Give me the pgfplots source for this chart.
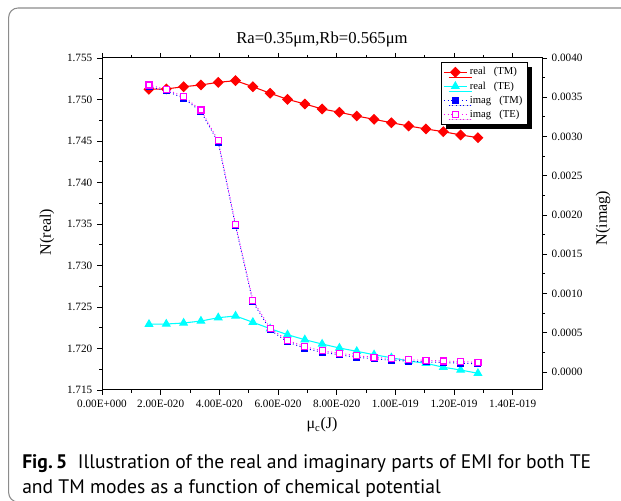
\documentclass[border=0pt]{standalone}
\usepackage{fontspec}
\setmainfont{Liberation Serif}
\newfontfamily\capfont{PT Sans}
\usepackage{pgfplots}
\pgfplotsset{compat=1.18}
\usepackage{pgfplotstable}
\usetikzlibrary{shadows}
\definecolor{framegray}{gray}{0.55}
\definecolor{cy}{RGB}{0,255,255}
\definecolor{mg}{RGB}{255,0,255}
\definecolor{rd}{RGB}{255,0,0}
\definecolor{bl}{RGB}{0,0,255}

\pgfplotstableread{
x tmr ter tmi tei
1.602 1.75123 1.72292 0.003636 0.003656
2.192 1.75127 1.72295 0.003581 0.003601
2.782 1.75154 1.72307 0.003487 0.003507
3.373 1.75175 1.72331 0.003318 0.003338
3.963 1.75207 1.72371 0.002926 0.002946
4.553 1.75227 1.72392 0.001861 0.001881
5.143 1.75154 1.72316 0.000893 0.000913
5.733 1.75075 1.72239 0.000536 0.000556
6.324 1.75002 1.72166 0.000383 0.000403
6.914 1.74946 1.72106 0.000302 0.000322
7.504 1.74886 1.72054 0.000251 0.000271
8.094 1.74846 1.72006 0.000218 0.000238
8.685 1.74801 1.71966 0.000187 0.000207
9.275 1.74761 1.71925 0.000167 0.000187
9.865 1.74720 1.71889 0.000149 0.000169
10.455 1.74681 1.71849 0.000136 0.000156
11.045 1.74645 1.71822 0.000129 0.000149
11.636 1.74612 1.71774 0.000120 0.000140
12.226 1.74573 1.71741 0.000111 0.000131
12.816 1.74540 1.71701 0.000103 0.000123
}\data

\pgfplotsset{
  common/.style={
    at={(76.5pt,82.5pt)}, anchor=south west, scale only axis,
    width=330pt, height=249pt, xmin=0, xmax=15,
    tick align=outside, major tick length=3.75pt, minor tick length=2.25pt,
    tick style={black, line width=0.6pt},
    axis line style={line width=0.75pt},
    ticklabel style={font=\fontsize{8.4}{10}\selectfont},
    scaled y ticks=false,
  }
}

\begin{document}
\begin{tikzpicture}
\clip (0,0) rectangle (465.75pt,375pt);
\path[use as bounding box] (0,0) rectangle (465.75pt,375pt);
\draw[framegray, line width=0.8pt, rounded corners=7pt] (6.5pt,-1.5pt) rectangle (480pt,369pt);

\begin{axis}[common,
  ymin=1.715, ymax=1.755,
  xtick={0,2,4,6,8,10,12,14},
  xticklabels={0.00E+000,2.00E-020,4.00E-020,6.00E-020,8.00E-020,1.00E-019,1.20E-019,1.40E-019},
  minor x tick num=1,
  ytick={1.715,1.720,1.725,1.730,1.735,1.740,1.745,1.750,1.755},
  minor y tick num=1,
  ytick pos=left,
  yticklabel style={/pgf/number format/.cd, fixed, fixed zerofill, precision=3, assume math mode=true},
]
\addplot[rd, line width=0.8pt, mark=square*, mark size=2.5pt, mark options={rotate=45, solid, fill=rd}] table[x=x, y=tmr] {\data};
\addplot[cy, line width=0.8pt, mark=triangle*, mark size=3.2pt, mark options={solid, fill=cy}] table[x=x, y=ter] {\data};
\end{axis}

\begin{axis}[common,
  ymin=-0.00023, ymax=0.004,
  axis y line*=right, axis x line=none,
  ytick={0,0.0005,0.0010,0.0015,0.0020,0.0025,0.0030,0.0035,0.0040},
  minor y tick num=1,
  yticklabel style={/pgf/number format/.cd, fixed, fixed zerofill, precision=4, assume math mode=true},
  legend style={at={(0.968,0.988)}, anchor=north east, draw=black, line width=0.75pt, fill=white,
    drop shadow={shadow xshift=3.6pt, shadow yshift=-3.6pt, fill=black, opacity=1},
    font=\fontsize{8}{8.5}\selectfont, inner sep=1.8pt, row sep=-0.5pt},
  legend cell align=left,
]
\addlegendimage{rd, line width=0.8pt, mark=square*, mark size=2.5pt, mark options={rotate=45, solid, fill=rd}}
\addlegendentry{real\ \ \ (TM)}
\addlegendimage{cy, line width=0.8pt, mark=triangle*, mark size=3.2pt, mark options={solid, fill=cy}}
\addlegendentry{real\ \ \ (TE)}
\addplot[bl, line width=0.7pt, dash pattern=on 0.7pt off 2pt, mark=square*, mark size=2.25pt, mark options={solid, fill=bl}] table[x=x, y=tmi] {\data};
\addlegendentry{imag\ \ \ (TM)}
\addplot[mg, line width=0.7pt, dash pattern=on 0.7pt off 2pt, mark=square*, mark size=2.25pt, mark options={solid, fill=white, line width=0.9pt}] table[x=x, y=tei] {\data};
\addlegendentry{imag\ \ \ (TE)}
\end{axis}

\node[font=\fontsize{12.5}{14}\selectfont] at (241.5pt,345pt) {Ra=0.35μm,Rb=0.565μm};
\node[font=\fontsize{12}{14}\selectfont, rotate=90] at (35.25pt,201pt) {N(real)};
\node[font=\fontsize{12}{14}\selectfont, rotate=90] at (452.25pt,211.5pt) {N(imag)};
\node[font=\fontsize{12}{14}\selectfont] at (241.5pt,56.25pt) {μ\textsubscript{c}(J)};
\node[anchor=base west, inner sep=0pt, font=\capfont\fontsize{14.7}{17}\selectfont] at (16.5pt,24pt) {\textbf{Fig.\,5}\hspace{0.55em}Illustration of the real and imaginary parts of EMI for both TE};
\node[anchor=base west, inner sep=0pt, font=\capfont\fontsize{14.7}{17}\selectfont] at (16.5pt,5pt) {and TM modes as a function of chemical potential};
\end{tikzpicture}
\end{document}
